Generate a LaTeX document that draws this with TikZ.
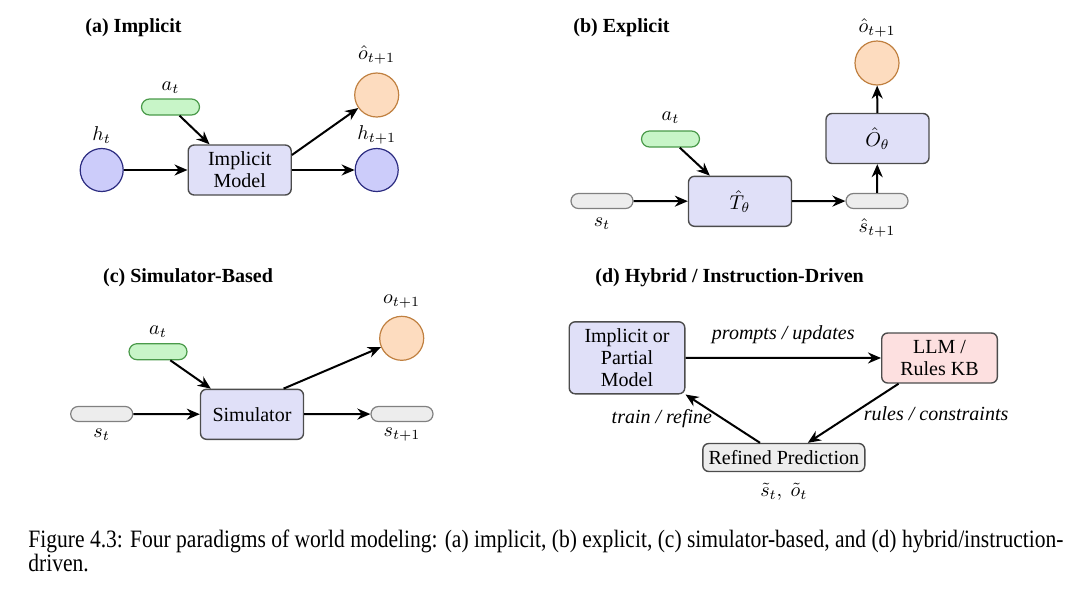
\documentclass[tikz,border=0pt]{standalone}
\usepackage{fontspec}
\setmainfont{Liberation Serif}
\usetikzlibrary{positioning,arrows.meta}
\definecolor{hidblue}{HTML}{CCCCFA}
\definecolor{hidline}{HTML}{2B2B80}
\definecolor{obsfill}{HTML}{FDDCBF}
\definecolor{obsline}{HTML}{C08040}
\definecolor{actfill}{HTML}{C8F5C8}
\definecolor{actline}{HTML}{4A9A4A}
\definecolor{kbfill}{HTML}{FDE0E0}
\definecolor{boxfill}{HTML}{E0E0F8}

\begin{document}
\begin{tikzpicture}[x=0.5pt,y=-0.5pt,
  model/.style={draw=black!70, fill=boxfill, rounded corners=3pt, line width=0.7pt,
    minimum width=51.5pt, minimum height=25pt, align=center, font=\fontsize{10}{11}\selectfont},
  hidden/.style={circle, draw=hidline, fill=hidblue, minimum size=21.5pt, line width=0.6pt},
  obs/.style={circle, draw=obsline, fill=obsfill, minimum size=22pt, line width=0.6pt},
  act/.style={rounded corners=4pt, draw=actline, fill=actfill, minimum width=29pt,
    minimum height=8pt, inner sep=0pt, line width=0.6pt},
  state/.style={rounded corners=3.7pt, draw=black!50, fill=black!7, minimum width=31pt,
    minimum height=7.5pt, inner sep=0pt, line width=0.6pt},
  flow/.style={-{Stealth[length=6.5pt,width=5.5pt]}, line width=1pt},
  title/.style={font=\bfseries\fontsize{10}{12}\selectfont, anchor=west, inner sep=0pt},
  lbl/.style={font=\fontsize{10}{12}\selectfont},
  edgelbl/.style={font=\itshape\fontsize{10}{12}\selectfont}
]
  \useasboundingbox (0,0) rectangle (1080,590);

  % (a) implicit
  \node[title] (ta) at (85,28) {(a) Implicit};
  \node[hidden] (ht) at (101.7,170) {};
  \node[lbl] (htl) at (101.7,135) {$h_t$};
  \node[act] (aa) at (170.5,107) {};
  \node[lbl] (aal) at (170.5,88) {$a_t$};
  \node[model] (ma) at (239.7,170) {Implicit\\Model};
  \node[obs] (oa) at (376.7,95) {};
  \node[lbl] (oal) at (376.7,55) {$\hat{o}_{t+1}$};
  \node[hidden] (hn) at (376.7,170) {};
  \node[lbl] (hnl) at (376.7,135) {$h_{t+1}$};
  \draw[flow] (ht) -- (ma);
  \draw[flow] (aa) -- ([xshift=11pt]ma.north west);
  \draw[flow] ([yshift=7.5pt]ma.east) -- (oa);
  \draw[flow] (ma) -- (hn);

  % (b) explicit
  \node[title] (tb) at (573,28) {(b) Explicit};
  \node[state] (sb) at (602,201) {};
  \node[lbl] (sbl) at (602,224) {$s_t$};
  \node[act] (ab) at (670.5,139) {};
  \node[lbl] (abl) at (670.5,118) {$a_t$};
  \node[model] (tm) at (740,201.3) {$\hat{T}_\theta$};
  \node[state] (snb) at (877,201) {};
  \node[lbl] (snbl) at (877,228) {$\hat{s}_{t+1}$};
  \node[model] (om) at (877.5,138.5) {$\hat{O}_\theta$};
  \node[obs] (ob) at (877,63) {};
  \node[lbl] (obl) at (877,28) {$\hat{o}_{t+1}$};
  \draw[flow] (sb) -- (tm);
  \draw[flow] (ab) -- ([xshift=11pt]tm.north west);
  \draw[flow] (tm) -- (snb);
  \draw[flow] (snb) -- (om);
  \draw[flow] (om) -- (ob);

  % (c) simulator-based
  \node[title] (tc) at (102.7,278) {(c) Simulator-Based};
  \node[obs] (oc) at (401.7,338.3) {};
  \node[lbl] (ocl) at (401.7,301.7) {$o_{t+1}$};
  \node[act] (ac) at (158,351.7) {};
  \node[lbl] (acl) at (158,331.7) {$a_t$};
  \node[model] (sim) at (252,414.3) {Simulator};
  \node[state] (sc) at (101.7,414) {};
  \node[lbl] (scl) at (101.7,435) {$s_t$};
  \node[state] (snc) at (402,414) {};
  \node[lbl] (sncl) at (402,435) {$s_{t+1}$};
  \draw[flow] (ac) -- ([xshift=5.5pt]sim.north west);
  \draw[flow] ([xshift=-10.3pt]sim.north east) -- (oc);
  \draw[flow] (sc) -- (sim);
  \draw[flow] (sim) -- (snc);

  % (d) hybrid / instruction-driven
  \node[title] (td) at (595,278) {(d) Hybrid / Instruction-Driven};
  \node[model, minimum width=57.8pt, minimum height=36pt] (ipm) at (627,357.8)
    {Implicit or\\Partial\\Model};
  \node[model, fill=kbfill, minimum width=57.8pt] (llm) at (939.5,358) {LLM /\\Rules KB};
  \node[model, fill=black!7, minimum width=81pt, minimum height=14pt, inner sep=1pt]
    (rp) at (783.8,457.5) {Refined Prediction};
  \node[lbl] (rpl) at (783.8,492) {$\tilde{s}_t,\ \tilde{o}_t$};
  \draw[flow] (ipm) -- (llm)
    node[edgelbl, midway, above=3pt] (pu) {prompts / updates};
  \draw[flow] ([xshift=8.8pt]llm.south west) -- ([xshift=12pt]rp.north)
    node[edgelbl, midway, anchor=west, xshift=1.5pt] (rc) {rules / constraints};
  \draw[flow] ([xshift=-11.9pt]rp.north) -- (ipm.south east)
    node[edgelbl, midway, anchor=east, xshift=-1.5pt] (tr) {train / refine};

  % caption
  \node[anchor=base west, inner sep=0pt, font=\fontsize{12.5}{11.5}\selectfont] (cap) at (28,547)
    {\resizebox{517.5pt}{\height}{\begin{tabular}[t]{@{}l@{}}
      Figure 4.3: Four paradigms of world modeling: (a) implicit, (b) explicit, (c) simulator-based, and (d) hybrid/instruction-\\
      driven.
    \end{tabular}}};
\end{tikzpicture}
\end{document}
